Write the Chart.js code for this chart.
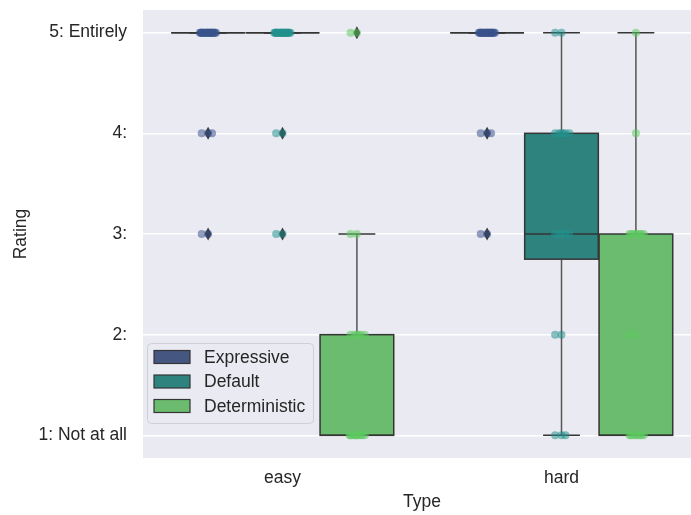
<!DOCTYPE html>
<html>
<head>
<meta charset="utf-8">
<script src="https://cdn.jsdelivr.net/npm/chart.js@4/dist/chart.umd.min.js"></script>
<style>
  html, body { margin: 0; padding: 0; background: #fff; overflow: hidden; }
  #wrap { width: 705px; height: 515px; }
</style>
</head>
<body>
<div id="wrap"><canvas id="cv"></canvas></div>
<script>
// categories
const types = ['easy', 'hard'];
const hues = ['Expressive', 'Default', 'Deterministic'];
const ratingTicks = [1, 2, 3, 4, 5];
const ratingLabels = ['1: Not at all', '2:', '3:', '4:', '5: Entirely'];

// how many answers per rating (index 0 = rating 1), one row per type
const expressiveCounts    = [[0, 0, 2, 3, 24], [0, 0, 2, 3, 24]];
const defaultCounts       = [[0, 0, 2, 2, 24], [3, 2, 5, 6, 2]];
const deterministicCounts = [[10, 6, 2, 0, 2], [8, 2, 8, 1, 1]];

// box stats [whisker low, q1, median, q3, whisker high], one row per type
const expressiveBox    = [[5, 5, 5, 5, 5], [5, 5, 5, 5, 5]];
const defaultBox       = [[5, 5, 5, 5, 5], [1, 2.75, 3, 4, 5]];
const deterministicBox = [[1, 1, 1, 2, 3], [1, 1, 1, 3, 5]];

// outliers
const expressiveFliers    = [[3, 4], [3, 4]];
const defaultFliers       = [[3, 4], []];
const deterministicFliers = [[5], []];

const counts = [expressiveCounts, defaultCounts, deterministicCounts];
const boxes  = [expressiveBox, defaultBox, deterministicBox];
const fliers = [expressiveFliers, defaultFliers, deterministicFliers];

const lineColors = ['#3b528b', '#21918c', '#5ec962'];
const boxColors  = ['#455681', '#2f837f', '#6bbc6e'];
const edge = '#353535';
const tx = '#262626';
const FONT = { family: '"Liberation Sans", Arial, sans-serif', size: 17.5 };

const hueStep = 0.8 / 3, boxHalf = 0.132, jit = 0.03;
const hueX = (ti, hi) => ti + (hi - 1) * hueStep;

// strip points, spread sideways in a fixed pattern
const pointSets = hues.map((h, hi) => {
  const pts = [];
  types.forEach((t, ti) => {
    counts[hi][ti].forEach((n, ri) => {
      for (let k = 0; k < n; k++) {
        const f = (0.5 + k * 0.618034) % 1;
        pts.push({ x: hueX(ti, hi) + (f - 0.5) * 2 * jit, y: ri + 1 });
      }
    });
  });
  return pts;
});

const boxPlugin = {
  id: 'boxes',
  beforeDraw(chart) {
    const { ctx, chartArea: a } = chart;
    ctx.save(); ctx.fillStyle = '#eaeaf2';
    ctx.fillRect(a.left, a.top, a.right - a.left, a.bottom - a.top); ctx.restore();
  },
  beforeDatasetsDraw(chart) {
    const { ctx, scales: { x, y } } = chart;
    ctx.save();
    ctx.lineWidth = 1.5;
    const hline = (x0, x1, yy) => { ctx.beginPath(); ctx.moveTo(x0, yy); ctx.lineTo(x1, yy); ctx.stroke(); };
    const vline = (xx, y0, y1) => { ctx.beginPath(); ctx.moveTo(xx, y0); ctx.lineTo(xx, y1); ctx.stroke(); };
    hues.forEach((h, hi) => {
      types.forEach((t, ti) => {
        const [lo, q1, med, q3, hiW] = boxes[hi][ti];
        const cx = hueX(ti, hi);
        const xl = x.getPixelForValue(cx - boxHalf), xr = x.getPixelForValue(cx + boxHalf), xm = x.getPixelForValue(cx);
        const cl = x.getPixelForValue(cx - boxHalf / 2), cr = x.getPixelForValue(cx + boxHalf / 2);
        ctx.strokeStyle = '#555555';
        vline(xm, y.getPixelForValue(q3), y.getPixelForValue(hiW));
        vline(xm, y.getPixelForValue(q1), y.getPixelForValue(lo));
        ctx.strokeStyle = edge;
        hline(cl, cr, y.getPixelForValue(hiW));
        hline(cl, cr, y.getPixelForValue(lo));
        const yt = y.getPixelForValue(q3), yb = y.getPixelForValue(q1);
        ctx.fillStyle = boxColors[hi];
        ctx.fillRect(xl, yt, xr - xl, yb - yt);
        ctx.strokeRect(xl, yt, xr - xl, yb - yt);
        hline(xl, xr, y.getPixelForValue(med));
        ctx.fillStyle = edge;
        fliers[hi][ti].forEach(v => {
          const py = y.getPixelForValue(v);
          ctx.beginPath();
          ctx.moveTo(xm, py - 6.5); ctx.lineTo(xm + 3.5, py); ctx.lineTo(xm, py + 6.5); ctx.lineTo(xm - 3.5, py);
          ctx.closePath(); ctx.fill();
        });
      });
    });
    ctx.restore();
  },
  afterDraw(chart) {
    // legend, lower left inside the axes
    const { ctx, chartArea: a } = chart;
    const L = a.left + 4, T = a.bottom - 115, W = 166, H = 80;
    ctx.save();
    ctx.fillStyle = 'rgba(234,234,242,0.8)'; ctx.strokeStyle = '#cfcfd6'; ctx.lineWidth = 1;
    ctx.beginPath(); ctx.roundRect(L + 0.5, T + 0.5, W, H, 4); ctx.fill(); ctx.stroke();
    ctx.font = FONT.size + 'px ' + FONT.family; ctx.textBaseline = 'middle'; ctx.textAlign = 'left';
    hues.forEach((h, hi) => {
      const cy = T + 14 + hi * 24.5;
      ctx.fillStyle = boxColors[hi]; ctx.fillRect(L + 7, cy - 6.5, 36, 13);
      ctx.strokeStyle = edge; ctx.lineWidth = 1.2; ctx.strokeRect(L + 7, cy - 6.5, 36, 13);
      ctx.fillStyle = tx; ctx.fillText(h, L + 57, cy + 1);
    });
    ctx.restore();
  }
};

new Chart(document.getElementById('cv'), {
  type: 'scatter',
  data: {
    datasets: hues.map((h, hi) => ({
      label: h, data: pointSets[hi],
      backgroundColor: lineColors[hi] + '88', borderWidth: 0, pointRadius: 4, pointHoverRadius: 4,
    })),
  },
  options: {
    responsive: true, maintainAspectRatio: false, animation: false,
    layout: { padding: { top: 10, right: 2, left: 0, bottom: 0 } },
    plugins: { legend: { display: false }, tooltip: { enabled: false } },
    scales: {
      x: {
        type: 'linear', min: -0.5, max: 1.5,
        grid: { display: false, drawTicks: false }, border: { display: false },
        afterBuildTicks: s => { s.ticks = types.map((t, i) => ({ value: i })); },
        afterFit: s => { s.height = 57; s.paddingLeft = 0; s.paddingRight = 0; },
        ticks: { callback: v => types[v], color: tx, font: FONT, padding: 10, maxRotation: 0 },
        title: { display: true, text: 'Type', color: tx, font: FONT, padding: { top: 0, bottom: 2 } },
      },
      y: {
        min: 0.775, max: 5.225,
        grid: { color: '#ffffff', lineWidth: 1.5, drawTicks: false }, border: { display: false },
        afterBuildTicks: s => { s.ticks = ratingTicks.map(v => ({ value: v })); },
        afterFit: s => { s.width = 143; s.paddingTop = 0; s.paddingBottom = 0; },
        ticks: { callback: v => ratingLabels[v - 1], color: tx, font: FONT, padding: 16 },
        title: { display: true, text: 'Rating', color: tx, font: FONT, padding: { top: 11, bottom: 0 } },
      },
    },
  },
  plugins: [boxPlugin],
});
</script>
</body>
</html>
